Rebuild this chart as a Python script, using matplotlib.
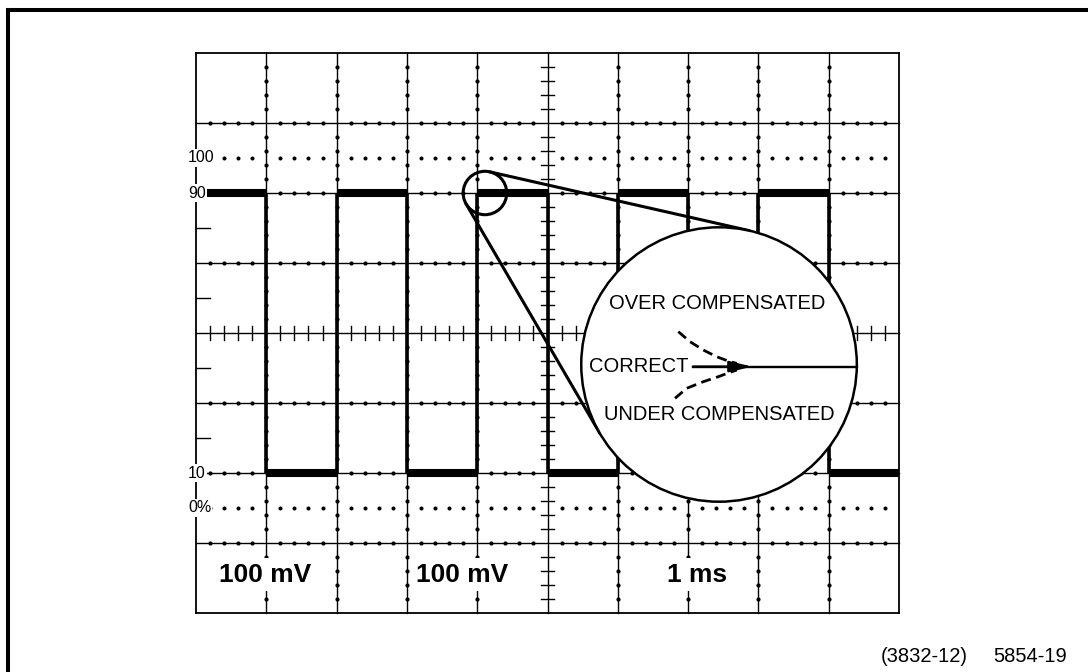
import numpy as np
import matplotlib
matplotlib.use('Agg')
import matplotlib.pyplot as plt
from matplotlib.patches import Circle
from matplotlib.lines import Line2D

# ---------------- data ----------------
n_div_x = 10
n_div_y = 8
minor_per_div = 5
wave_levels_pct = [90, 10, 90, 10, 90, 10, 90, 10, 90, 10]   # trace level in each horizontal division
ref_pcts = [100, 90, 10, 0]
ref_labels = ['100', '90', '10', '0%']
dotted_pcts = [100, 0]
scale_labels = ['100 mV', '100 mV', '1 ms']
scale_label_x = [0.99, 3.78, 7.13]
zoom_labels = ['OVER COMPENSATED', 'CORRECT', 'UNDER COMPENSATED']
over_x = [6.861, 7.027, 7.216, 7.407, 7.596, 7.691]
over_y = [4.019, 3.876, 3.757, 3.661, 3.590, 3.567]
under_x = [6.814, 6.980, 7.216, 7.430, 7.620, 7.695]
under_y = [3.067, 3.210, 3.304, 3.376, 3.447, 3.471]
figure_id = ['(3832-12)', '5854-19']

# ---------------- helpers ----------------
ZERO_DIV = 1.5      # 0 % line in divisions
SPAN_DIV = 5.0      # 0..100 % spans 5 divisions


def pct_to_div(p):
    return ZERO_DIV + SPAN_DIV * p / 100.0


fig = plt.figure(figsize=(10.88, 6.72), dpi=100)
fig.patch.set_facecolor('white')
ax = fig.add_axes([196 / 1088, 59 / 672, 703 / 1088, 560 / 672])
ax.set_xlim(0, n_div_x)
ax.set_ylim(0, n_div_y)
ax.axis('off')

K = 'black'
grid_lw = 1.0

# major graticule
for x in range(n_div_x + 1):
    ax.plot([x, x], [0, n_div_y], color=K, lw=grid_lw * (1.3 if x in (0, n_div_x) else 1),
            clip_on=False, zorder=1, solid_capstyle='projecting')
for y in range(n_div_y + 1):
    ax.plot([0, n_div_x], [y, y], color=K, lw=grid_lw * (1.3 if y in (0, n_div_y) else 1),
            clip_on=False, zorder=1, solid_capstyle='projecting')

cx_c = n_div_x / 2
cy_c = n_div_y / 2
minor_x = np.array([i / minor_per_div for i in range(n_div_x * minor_per_div + 1)
                    if i % minor_per_div != 0])
minor_y = np.array([i / minor_per_div for i in range(n_div_y * minor_per_div + 1)
                    if i % minor_per_div != 0])

# minor dots on inner major lines
for x in range(1, n_div_x):
    if x == cx_c:
        continue
    ax.plot(np.full_like(minor_y, x), minor_y, ls='none', marker='o', ms=2.0,
            color=K, zorder=2)
for y in range(1, n_div_y):
    if y == cy_c:
        continue
    ax.plot(minor_x, np.full_like(minor_x, y), ls='none', marker='o', ms=2.0,
            color=K, zorder=2)

# centre-line cross ticks
tick = 0.095
for yy in minor_y:
    ax.plot([cx_c - tick, cx_c + tick], [yy, yy], color=K, lw=1.0, zorder=2)
for xx in minor_x:
    ax.plot([xx, xx], [cy_c - tick, cy_c + tick], color=K, lw=1.0, zorder=2)

# left-border half-division ticks
for yy in [2.5, 3.5, 4.5, 5.5]:
    ax.plot([0, 0.2], [yy, yy], color=K, lw=1.0, zorder=2)

# dotted 0 % and 100 % lines
for p in dotted_pcts:
    yv = pct_to_div(p)
    ax.plot(minor_x, np.full_like(minor_x, yv), ls='none', marker='o', ms=1.9,
            color=K, zorder=2)

# square-wave trace
levels = [pct_to_div(p) for p in wave_levels_pct]
for i, lv in enumerate(levels):
    ax.plot([i, i + 1], [lv, lv], color=K, lw=5.8, solid_capstyle='butt', zorder=3,
            clip_on=False)
    if i > 0 and levels[i - 1] != lv:
        ax.plot([i, i], [levels[i - 1], lv], color=K, lw=2.6, zorder=3,
                solid_capstyle='butt')

# magnifier circles and tangents
c1 = np.array([4.11, pct_to_div(90)])
r1 = 0.31
c2 = np.array([7.44, 3.55])
r2 = 1.96
ax.add_patch(Circle(c1, r1, fill=False, ec=K, lw=2.2, zorder=4))
d = c2 - c1
L = np.hypot(*d)
u = d / L
ang = np.arccos(-(r2 - r1) / L)
for s in (1, -1):
    ca, sa = np.cos(s * ang), np.sin(s * ang)
    n = np.array([u[0] * ca - u[1] * sa, u[0] * sa + u[1] * ca])
    p1 = c1 + r1 * n
    p2 = c2 + r2 * n
    ax.plot([p1[0], p2[0]], [p1[1], p2[1]], color=K, lw=2.2, zorder=4,
            solid_capstyle='round')
ax.add_patch(Circle(c2, r2, fc='white', ec=K, lw=1.8, zorder=5))

# inside the big circle
y_line = 3.52
x_tail = 7.07
x_tip = 7.91
x_end = c2[0] + np.sqrt(r2 ** 2 - (y_line - c2[1]) ** 2)
ax.plot([x_tail, x_end], [y_line, y_line], color=K, lw=1.7, zorder=6)
ax.annotate('', xy=(x_tip, y_line), xytext=(x_tail, y_line),
            arrowprops=dict(arrowstyle='-|>,head_length=0.9,head_width=0.22',
                            mutation_scale=15, color=K, lw=1.7,
                            shrinkA=0, shrinkB=0), zorder=6)
ax.plot(over_x, over_y, color=K, lw=2.0, ls=(0, (3.6, 2.0)), zorder=6)
ax.plot(under_x, under_y, color=K, lw=2.0, ls=(0, (3.6, 2.0)), zorder=6)

tfont = dict(family=['Liberation Sans', 'DejaVu Sans'], fontsize=14.5, color=K, zorder=7)
ax.text(7.407, 4.424, zoom_labels[0], ha='center', va='center', **tfont)
ax.text(7.00, y_line, zoom_labels[1], ha='right', va='center', **tfont)
ax.text(7.45, 2.829, zoom_labels[2], ha='center', va='center', **tfont)

# reference level labels at left
for p, lab in zip(ref_pcts, ref_labels):
    ax.text(-0.114, pct_to_div(p), lab, ha='left', va='center',
            family=['Liberation Sans', 'DejaVu Sans'],
            fontsize=11.5, color=K, zorder=8, clip_on=False,
            bbox=dict(facecolor='white', edgecolor='none', pad=0.8))

# scale readouts
for xs, lab in zip(scale_label_x, scale_labels):
    ax.text(xs, 0.55, lab, ha='center', va='center', fontsize=19, fontweight='bold',
            family=['Liberation Sans', 'DejaVu Sans'], color=K, zorder=8,
            bbox=dict(facecolor='white', edgecolor='none', pad=3))

# outer frame (top and left edges of the page frame)
fig.add_artist(Line2D([8 / 1088, 1.0], [1 - 10 / 672, 1 - 10 / 672], color=K, lw=2.9))
fig.add_artist(Line2D([8 / 1088, 8 / 1088], [0.0, 1 - 10 / 672], color=K, lw=2.9))

# figure id
fig.text(968 / 1088, 1 - 657 / 672, figure_id[0], ha='right', va='center',
         fontsize=14.5, family=['Liberation Sans', 'DejaVu Sans'], color=K)
fig.text(1067 / 1088, 1 - 657 / 672, figure_id[1], ha='right', va='center',
         fontsize=14.5, family=['Liberation Sans', 'DejaVu Sans'], color=K)

fig.savefig('out.png', dpi=100, facecolor='white')
